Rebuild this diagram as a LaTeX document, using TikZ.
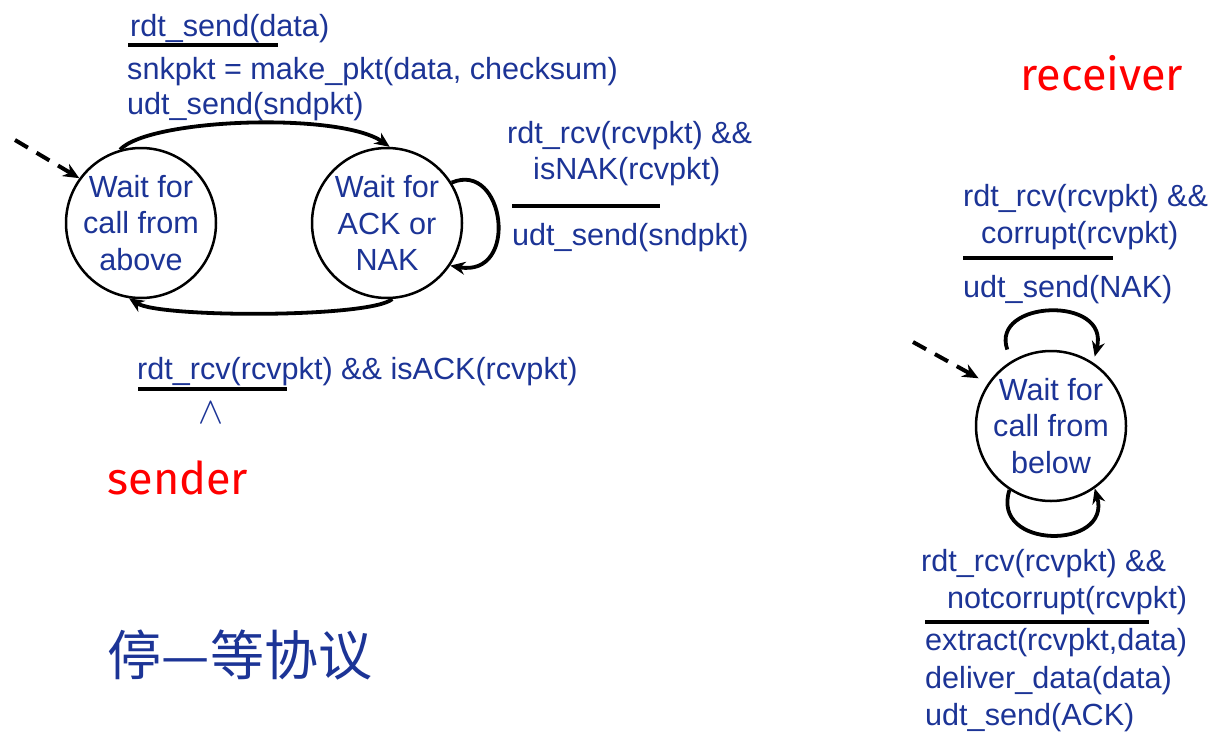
\documentclass[tikz,border=0pt]{standalone}
\usepackage{graphicx}
\usepackage{fontspec}
\setmainfont{Liberation Sans}
\newfontfamily\cjkfont{Noto Sans CJK SC}
\newfontfamily\handfont{Fira Sans}
\usetikzlibrary{arrows.meta}
\definecolor{txtblue}{RGB}{28,52,150}
\definecolor{lblred}{RGB}{255,0,0}
\begin{document}
\begin{tikzpicture}[x=1pt,y=-1pt,
  state/.style={draw,circle,line width=2.5pt,minimum size=150pt,inner sep=0pt,align=center,text=txtblue,font=\fontsize{30.6}{36.5}\selectfont},
  lbl/.style={anchor=base west,inner sep=0pt,text=txtblue,font=\fontsize{30.6}{36}\selectfont},
  trans/.style={line width=3.8pt,-{Stealth[length=15pt,width=13pt]}},
  init/.style={line width=4pt,dash pattern=on 15pt off 10pt,-{Stealth[length=16pt,width=14pt]}},
  bar/.style={line width=4.5pt},
  side/.style={inner sep=0pt,text=lblred,font=\handfont\fontsize{45}{45}\selectfont}
]
\useasboundingbox (0,0) rectangle (1231,736);
% states
\node[state] (L) at (141,223) {Wait for\\call from\\above};
\node[state] (M) at (387,223) {Wait for\\ACK or\\NAK};
\node[state] (R) at (1051,426) {Wait for\\call from\\below};
% sender labels
\node[lbl] (t1) at (130,36) {rdt\_send(data)};
\draw[bar] (128,45) -- (278,45);
\node[lbl] (t2) at (127,79) {snkpkt = make\_pkt(data, checksum)};
\node[lbl] (t3) at (127,114) {udt\_send(sndpkt)};
\node[lbl] (n1) at (507,143) {rdt\_rcv(rcvpkt) \&\&};
\node[lbl] (n2) at (533,179) {isNAK(rcvpkt)};
\draw[bar] (512,206) -- (660,206);
\node[lbl] (n3) at (512,245) {udt\_send(sndpkt)};
\node[lbl] (a1) at (137,379) {rdt\_rcv(rcvpkt) \&\& isACK(rcvpkt)};
\draw[bar] (138,389) -- (287,389);
\node[inner sep=0pt,text=txtblue] (wedge) at (211,413) {\resizebox{25pt}{21pt}{$\wedge$}};
\node[side] (snd) at (178,478) {sender};
\node[side] (rcv) at (1102,73) {receiver};
% receiver labels
\node[lbl] (r1) at (963,206) {rdt\_rcv(rcvpkt) \&\&};
\node[lbl] (r2) at (981,243) {corrupt(rcvpkt)};
\draw[bar] (963,258) -- (1113,258);
\node[lbl] (r3) at (963,297) {udt\_send(NAK)};
\node[lbl] (b1) at (921,571) {rdt\_rcv(rcvpkt) \&\&};
\node[lbl] (b2) at (947,608) {notcorrupt(rcvpkt)};
\draw[bar] (925,622) -- (1149,622);
\node[lbl] (b3) at (925,650) {extract(rcvpkt,data)};
\node[lbl] (b4) at (925,688) {deliver\_data(data)};
\node[lbl] (b5) at (925,725) {udt\_send(ACK)};
% title
\node[inner sep=0pt,text=txtblue,font=\cjkfont\fontsize{54}{54}\selectfont] (title) at (240,655) {停—等协议};
% transitions
\coordinate (iL) at (15,140);
\coordinate (iR) at (913,342);
\draw[init] (iL) -- (L.144);
\draw[init] (iR) -- ([xshift=-10pt,yshift=4pt]R.145);
\draw[trans] (L.106) .. controls (150,118) and (340,112) .. (M.88);
\draw[trans] (M.-86) .. controls (370,318) and (160,318) .. (L.-99);
\draw[trans] (M.32) .. controls (505,160) and (520,278) .. (M.-34);
\draw[trans] ([yshift=14pt]R.125) .. controls (990,300) and (1110,295) .. ([yshift=7pt]R.55);
\draw[trans] (R.-123) .. controls (990,550) and (1112,550) .. (R.-55);
\end{tikzpicture}
\end{document}
